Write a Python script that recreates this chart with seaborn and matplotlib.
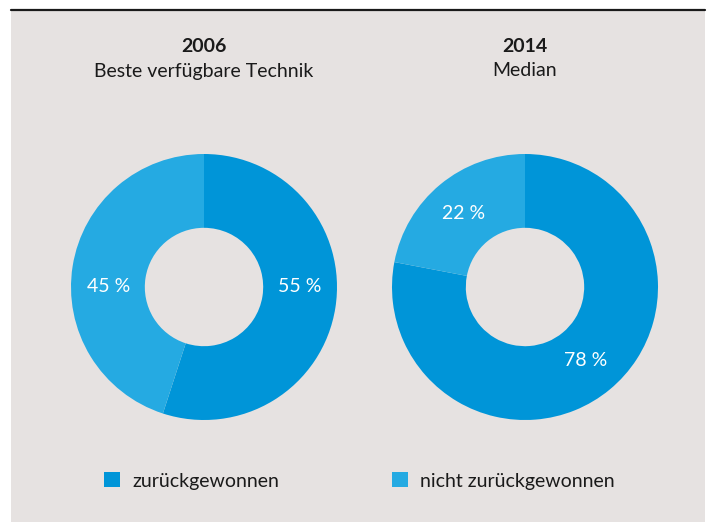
import matplotlib
matplotlib.use("Agg")
import matplotlib.pyplot as plt
from matplotlib import font_manager
from matplotlib.patches import Rectangle, Patch
import numpy as np
import seaborn as sns

years = ["2006", "2014"]
subtitles = ["Beste verfügbare Technik", "Median"]
categories = ["zurückgewonnen", "nicht zurückgewonnen"]
values_2006 = [55, 45]
values_2014 = [78, 22]
colors = ["#0095d8", "#25aae2"]

sns.set_theme(style="white")
plt.rcParams["font.family"] = ["Lato", "DejaVu Sans"]

W, H = 707, 524
fig = plt.figure(figsize=(W / 100, H / 100), dpi=100)
fig.patch.set_facecolor("white")
bg = "#e6e2e1"
fig.add_artist(Rectangle((11 / W, 2 / H), (705 - 11) / W, (514 - 2) / H,
                         transform=fig.transFigure, facecolor=bg, edgecolor="none", zorder=0))
fig.add_artist(plt.Line2D([11 / W, 705 / W], [1 - 10 / H, 1 - 10 / H],
                          transform=fig.transFigure, color="#1a1a1a", lw=1.6, zorder=1))

R = 133
centers = [(204, 287), (525, 287)]
data = [values_2006, values_2014]
for k, ((cx, cy), vals, yr, sub) in enumerate(zip(centers, data, years, subtitles)):
    ax = fig.add_axes([(cx - R) / W, (H - cy - R) / H, 2 * R / W, 2 * R / H])
    ax.set_facecolor("none")
    wedges, texts, autotexts = ax.pie(
        vals, colors=colors, startangle=90, counterclock=False,
        wedgeprops=dict(width=0.555, edgecolor="none"),
        autopct=lambda p: f"{p:.0f} %", pctdistance=0.72,
        textprops=dict(color="white", fontsize=14))
    if k == 0:
        # labels of the first donut sit on the horizontal axis
        for t in autotexts:
            x, y = t.get_position()
            t.set_position((np.sign(x) * 0.72, 0.0))
    ax.set_xlim(-1, 1)
    ax.set_ylim(-1, 1)
    ax.set_aspect("equal")
    ax.axis("off")
    fig.text(cx / W, 1 - 47 / H, yr, ha="center", va="center",
             fontsize=14, fontweight="bold", color="#1a1a1a")
    fig.text(cx / W, 1 - 71 / H, sub, ha="center", va="center",
             fontsize=14, color="#1a1a1a")

for x0, cat, col in zip([104, 392], categories, colors):
    fig.legend(handles=[Patch(facecolor=col, edgecolor="none", label=cat)],
               loc="center left", bbox_to_anchor=(x0 / W, 1 - 481 / H),
               frameon=False, fontsize=14, handlelength=0.82, handleheight=0.82,
               handletextpad=0.62, borderpad=0, borderaxespad=0,
               labelcolor="#1a1a1a")

fig.savefig("out.png", dpi=100, facecolor="white")
